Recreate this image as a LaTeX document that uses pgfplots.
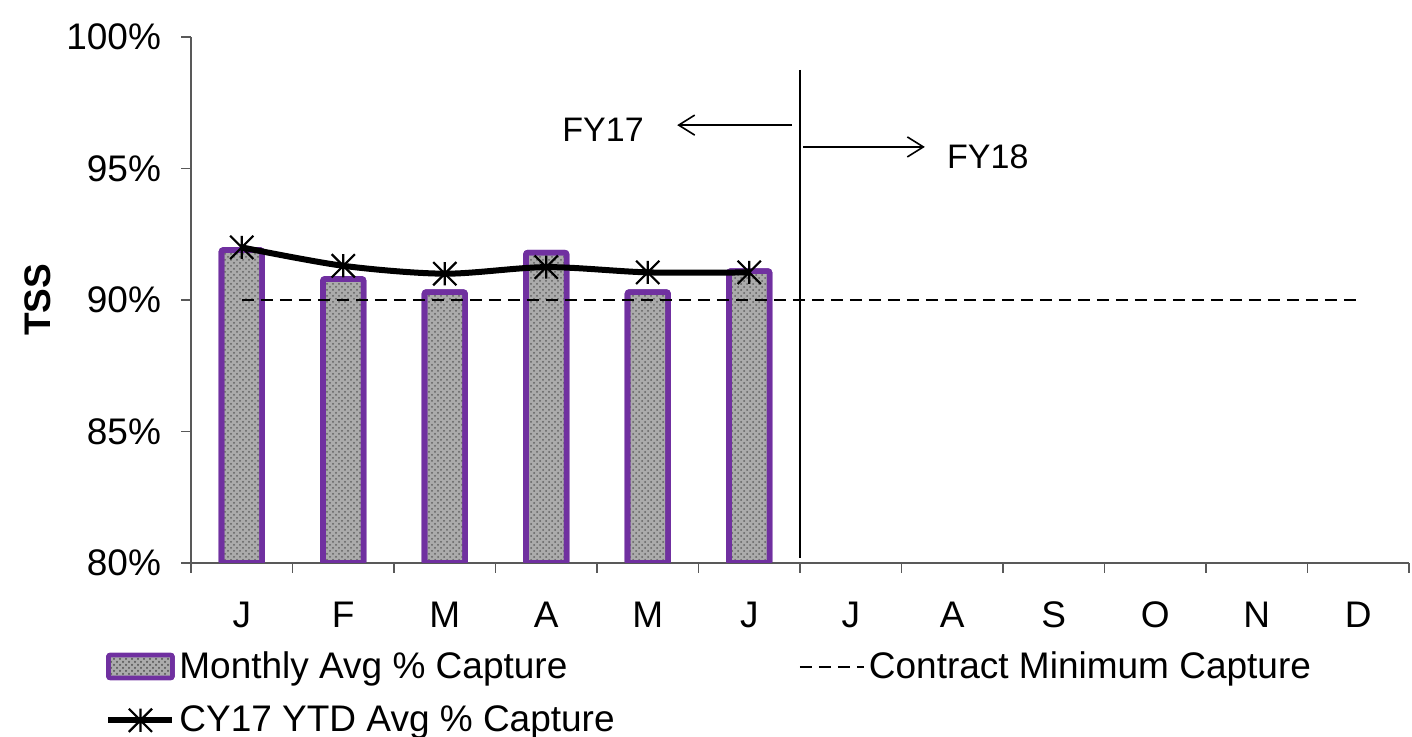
\documentclass[border=0pt]{standalone}
\usepackage{fontspec}
\setmainfont{Liberation Sans}
\usepackage{pgfplots}
\pgfplotsset{compat=1.18}
\usetikzlibrary{patterns,arrows.meta}
\definecolor{purp}{RGB}{112,48,160}
\pgfdeclareplotmark{xstar}{%
  \pgfpathmoveto{\pgfpoint{0pt}{\pgfplotmarksize}}\pgfpathlineto{\pgfpoint{0pt}{-\pgfplotmarksize}}%
  \pgfpathmoveto{\pgfpoint{-\pgfplotmarksize}{-\pgfplotmarksize}}\pgfpathlineto{\pgfpoint{\pgfplotmarksize}{\pgfplotmarksize}}%
  \pgfpathmoveto{\pgfpoint{-\pgfplotmarksize}{\pgfplotmarksize}}\pgfpathlineto{\pgfpoint{\pgfplotmarksize}{-\pgfplotmarksize}}%
  \pgfusepathqstroke}
\begin{document}
\begin{tikzpicture}[font=\fontsize{18.5}{22}\selectfont]
\useasboundingbox (0,0) rectangle (706pt,368.5pt);
\begin{axis}[
  at={(95.5pt,87pt)}, anchor=south west,
  scale only axis, width=609pt, height=263pt,
  xmin=-0.5, xmax=11.5, ymin=80, ymax=100,
  axis x line*=bottom, axis y line*=left,
  axis line style={-, black!65, line width=0.8pt},
  xtick={0,...,11},
  xticklabels={J,F,M,A,M,J,J,A,S,O,N,D},
  minor xtick={-0.5,0.5,...,11.5},
  ytick={80,85,90,95,100},
  yticklabels={80\%,85\%,90\%,95\%,100\%},
  tick align=outside,
  major tick length=5pt, minor tick length=5pt,
  every tick/.style={black!65, line width=0.8pt},
  major x tick style={draw=none},
  xticklabel style={yshift=-11pt},
  yticklabel style={xshift=-6.5pt},
  ylabel={\textbf{TSS}},
  ylabel style={at={(axis description cs:-0.126,0.5)}, anchor=center},
  legend style={draw=none, fill=none, at={(-0.0706,-0.161)}, anchor=north west,
    inner sep=0pt, row sep=8pt, /tikz/every even column/.append style={column sep=90pt}},
  legend columns=2,
  legend cell align=left,
  legend image code/.code={\draw[mark repeat=2,mark phase=2,#1] plot coordinates {(0pt,0pt)(16pt,0pt)(32pt,0pt)};},
]
\addplot[ybar, bar width=0.4, draw=purp, line width=2.8pt, rounded corners=1pt, fill=black!33,
  postaction={pattern=crosshatch dots, pattern color=black!62},
  legend image code/.code={\draw[draw=purp, line width=2.2pt, rounded corners=1pt, fill=black!33, postaction={pattern=crosshatch dots, pattern color=black!62}] (0pt,-5.5pt) rectangle (32pt,6pt);}]
  coordinates {(0,91.9)(1,90.8)(2,90.3)(3,91.8)(4,90.3)(5,91.1)};
\addlegendentry{Monthly Avg \% Capture}
\addplot[black, line width=1.1pt, dash pattern=on 6pt off 3.5pt] coordinates {(0,90)(11,90)};
\addlegendentry{Contract Minimum Capture}
\addplot[black, line width=3pt, smooth, mark=xstar, mark size=5.8pt, mark options={line width=1.1pt, solid}]
  coordinates {(0,92.0)(1,91.3)(2,91.0)(3,91.25)(4,91.05)(5,91.05)};
\addlegendentry{CY17 YTD Avg \% Capture}
\draw[black, line width=1pt] (axis cs:5.5,98.75) -- (axis cs:5.5,80.2);
\draw[-{Straight Barb[length=8pt,width=10pt]}, line width=0.8pt] (axis cs:5.42,96.65) -- (axis cs:4.29,96.65);
\draw[-{Straight Barb[length=8pt,width=10pt]}, line width=0.8pt] (axis cs:5.53,95.82) -- (axis cs:6.73,95.82);
\node[font=\fontsize{17}{20}\selectfont] at (axis cs:3.56,96.46) {FY17};
\node[font=\fontsize{17}{20}\selectfont] at (axis cs:7.35,95.44) {FY18};
\end{axis}
\end{tikzpicture}
\end{document}
